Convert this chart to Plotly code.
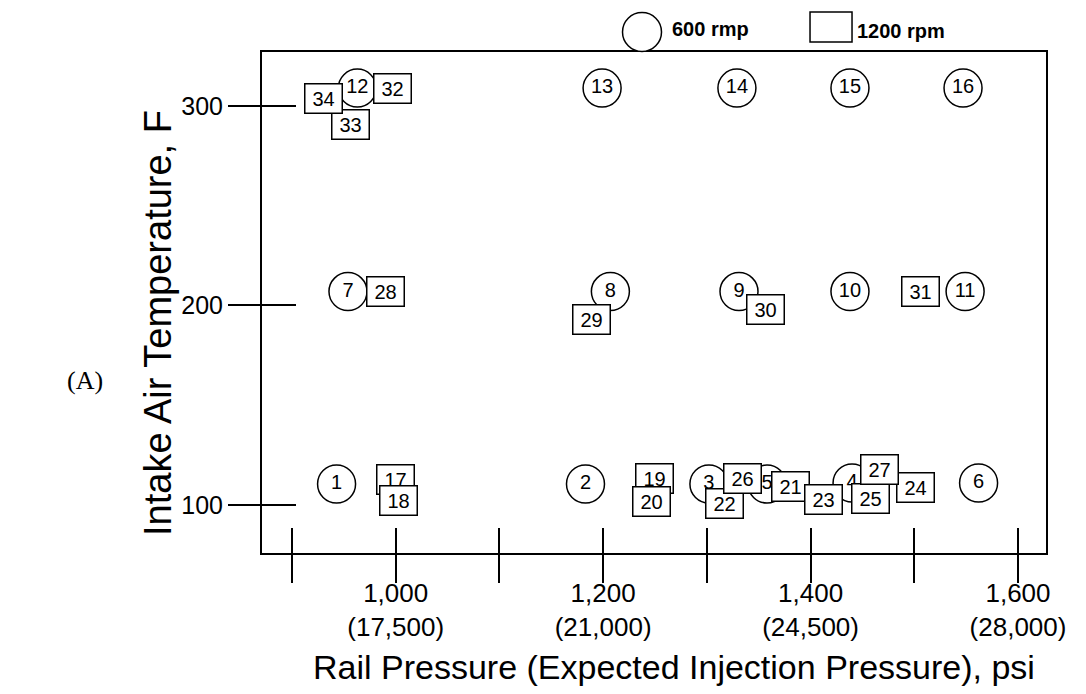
import plotly.graph_objects as go

# ---- data ----
labels_600 = [str(i) for i in range(1, 17)]
x_600 = [943, 1183, 1302, 1440, 1358, 1562, 954, 1207, 1331, 1438, 1549, 963, 1199, 1329, 1438, 1547]
y_600 = [110.5, 110.5, 110.5, 111, 110.5, 111, 207, 207, 207, 207, 207, 309, 309, 309, 309, 309]

labels_1200 = [str(i) for i in range(17, 35)]
x_1200 = [1000, 1003, 1250, 1247, 1381, 1317, 1412, 1501, 1458, 1334, 1466, 990, 1189, 1357, 1506, 997, 956, 930]
y_1200 = [113, 102, 113.5, 101.5, 109, 100.5, 102.5, 108.5, 103, 113.5, 118, 207, 193, 198, 207, 309, 291, 304]

x_tickvals = [900, 1000, 1100, 1200, 1300, 1400, 1500, 1600]
x_ticktext = ["", "1,000<br>(17,500)", "", "1,200<br>(21,000)", "", "1,400<br>(24,500)", "", "1,600<br>(28,000)"]
y_tickvals = [100, 200, 300]
y_ticktext = ["100", "200", "300"]

X_RANGE = [871.1, 1627]
Y_RANGE = [75.9, 327.1]

FONT = "Liberation Sans, Arial, Helvetica, sans-serif"

fig = go.Figure()

fig.add_trace(go.Scatter(
    x=x_600, y=y_600, text=labels_600, mode="markers+text",
    textposition="middle center",
    textfont=dict(family=FONT, size=20, color="black"),
    marker=dict(symbol="circle", size=38, color="white",
                line=dict(color="black", width=1.5)),
    cliponaxis=False, showlegend=False, name="600 rmp",
))

# dummy trace for overlay axes (crossing ticks)
fig.add_trace(go.Scatter(x=[None], y=[None], xaxis="x2", yaxis="y2",
                         showlegend=False, hoverinfo="skip"))

annotations = []
for lab, xv, yv in zip(labels_1200, x_1200, y_1200):
    annotations.append(dict(
        x=xv, y=yv, xref="x", yref="y", text=lab, showarrow=False,
        width=36, height=28, borderpad=0, borderwidth=1.5,
        bordercolor="black", bgcolor="white",
        font=dict(family=FONT, size=20, color="black"),
        xanchor="center", yanchor="middle",
    ))

# axis titles and panel label
annotations += [
    dict(text="Rail Pressure (Expected Injection Pressure), psi", xref="paper", yref="paper",
         x=0.5255, y=-0.2275, showarrow=False, xanchor="center", yanchor="middle",
         font=dict(family=FONT, size=34, color="black")),
    dict(text="Intake Air Temperature, F", xref="paper", yref="paper",
         x=-0.1327, y=0.459, showarrow=False, xanchor="center", yanchor="middle",
         textangle=-90, font=dict(family=FONT, size=38, color="black")),
    dict(text="(A)", xref="paper", yref="paper", x=-0.2258, y=0.345,
         showarrow=False, xanchor="center", yanchor="middle",
         font=dict(family="Liberation Serif, Times New Roman, serif", size=26, color="black")),
    dict(text="<b>600 rmp</b>", xref="paper", yref="paper", x=0.5204, y=1.046,
         showarrow=False, xanchor="left", yanchor="middle",
         font=dict(family=FONT, size=20, color="black")),
    dict(text="<b>1200 rpm</b>", xref="paper", yref="paper", x=0.7564, y=1.042,
         showarrow=False, xanchor="left", yanchor="middle",
         font=dict(family=FONT, size=20, color="black")),
]

shapes = [
    dict(type="circle", xref="paper", yref="paper", xsizemode="pixel", ysizemode="pixel",
         xanchor=0.4847, yanchor=1.040, x0=-19.5, x1=19.5, y0=-19.5, y1=19.5,
         line=dict(color="black", width=1.5), fillcolor="white"),
    dict(type="rect", xref="paper", yref="paper", xsizemode="pixel", ysizemode="pixel",
         xanchor=0.7258, yanchor=1.050, x0=-21, x1=21, y0=-15, y1=15,
         line=dict(color="black", width=1.5), fillcolor="white"),
]

fig.update_layout(
    width=1078, height=686, autosize=False,
    margin=dict(l=254, r=40, t=44, b=141),
    paper_bgcolor="white", plot_bgcolor="white",
    font=dict(family=FONT, color="black"),
    annotations=annotations, shapes=shapes,
    xaxis=dict(range=X_RANGE, tickmode="array", tickvals=x_tickvals, ticktext=x_ticktext,
               ticks="outside", ticklen=28, tickwidth=1.5, tickcolor="black",
               showline=True, linewidth=2, linecolor="black", mirror=True,
               showgrid=False, zeroline=False, tickfont=dict(family=FONT, size=26),
               ticklabelstandoff=-12),
    yaxis=dict(range=Y_RANGE, tickmode="array", tickvals=y_tickvals, ticktext=y_ticktext,
               ticks="outside", ticklen=32, tickwidth=1.5, tickcolor="black",
               showline=True, linewidth=2, linecolor="black", mirror=True,
               showgrid=False, zeroline=False, tickfont=dict(family=FONT, size=25)),
    xaxis2=dict(range=X_RANGE, overlaying="x", anchor="y", side="bottom",
                tickmode="array", tickvals=x_tickvals, ticks="inside", ticklen=25,
                tickwidth=1.5, tickcolor="black", showticklabels=False,
                showline=False, showgrid=False, zeroline=False),
    yaxis2=dict(range=Y_RANGE, overlaying="y", anchor="x", side="left",
                tickmode="array", tickvals=y_tickvals, ticks="inside", ticklen=34,
                tickwidth=1.5, tickcolor="black", showticklabels=False,
                showline=False, showgrid=False, zeroline=False),
)

fig.write_html("out.html")
